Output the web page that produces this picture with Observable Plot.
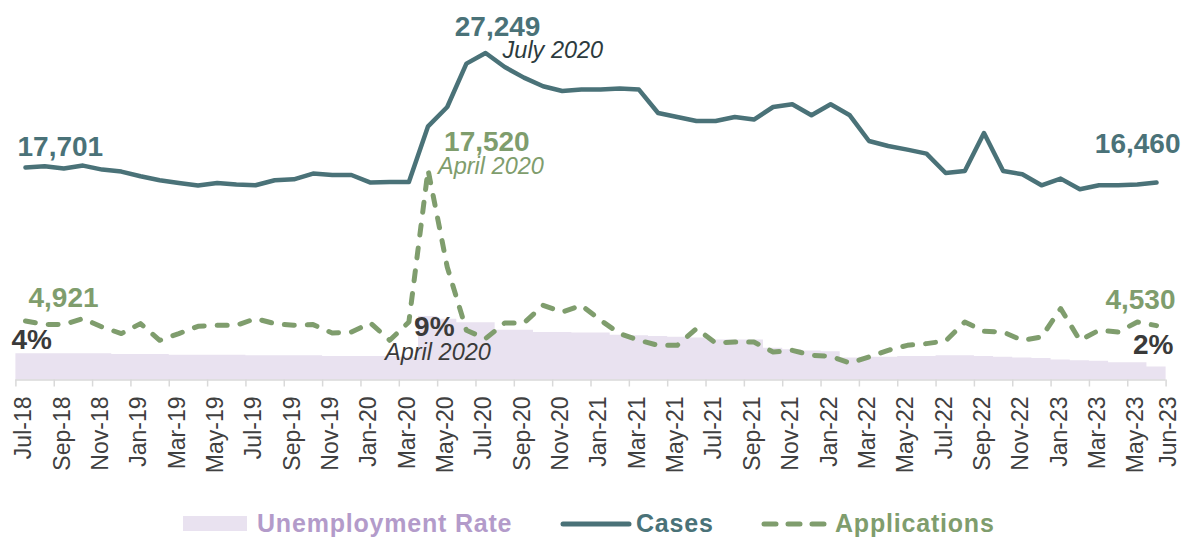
<!DOCTYPE html>
<html>
<head>
<meta charset="utf-8">
<script src="https://cdn.jsdelivr.net/npm/d3@7"></script>
<script src="https://cdn.jsdelivr.net/npm/@observablehq/plot@0.6"></script>
<style>
  html, body { margin: 0; padding: 0; background: #fff; }
  #chart { width: 1184px; height: 505px; }
  #legend { position: relative; width: 1184px; height: 32px; font-family: "Liberation Sans", Arial, sans-serif; font-weight: bold; font-size: 25px; letter-spacing: 0.8px; }
  #legend .item { position: absolute; top: 2px; height: 32px; line-height: 32px; white-space: nowrap; }
  #legend svg { position: absolute; top: 2px; }
</style>
</head>
<body>
<div id="chart"></div>
<div id="legend"></div>
<script>
// ---- data ----
const months = ["Jul-18","Aug-18","Sep-18","Oct-18","Nov-18","Dec-18","Jan-19","Feb-19","Mar-19","Apr-19","May-19","Jun-19",
  "Jul-19","Aug-19","Sep-19","Oct-19","Nov-19","Dec-19","Jan-20","Feb-20","Mar-20","Apr-20","May-20","Jun-20",
  "Jul-20","Aug-20","Sep-20","Oct-20","Nov-20","Dec-20","Jan-21","Feb-21","Mar-21","Apr-21","May-21","Jun-21",
  "Jul-21","Aug-21","Sep-21","Oct-21","Nov-21","Dec-21","Jan-22","Feb-22","Mar-22","Apr-22","May-22","Jun-22",
  "Jul-22","Aug-22","Sep-22","Oct-22","Nov-22","Dec-22","Jan-23","Feb-23","Mar-23","Apr-23","May-23","Jun-23"];

const cases = [17701,17808,17617,17867,17533,17367,16975,16642,16417,16200,
  16417,16283,16225,16642,16725,17200,17083,17083,16450,16500,
  16500,21142,22750,26367,27249,26083,25200,24475,24083,24200,
  24200,24283,24200,22250,21917,21583,21583,21917,21700,22750,
  22975,22058,22975,22058,19917,19500,19200,18867,17250,17417,
  20583,17417,17142,16225,16783,15892,16225,16225,16283,16460];

const applications = [4921,4617,4625,5117,4417,3867,4700,3308,3867,4475,
  4558,4558,5117,4700,4558,4617,3917,4000,4750,3308,
  4833,17520,9417,4142,3450,4750,4750,6225,5667,6225,
  4975,3867,3308,2892,2892,4283,3083,3167,3167,2333,
  2475,2058,1975,1417,1917,2475,2892,3033,3250,4833,
  4058,4000,3308,3583,5950,3308,4142,4000,4833,4530];

const unemployment = [3.8,3.8,3.8,3.8,3.8,3.7,3.7,3.7,3.6,3.6,
  3.6,3.6,3.5,3.5,3.5,3.5,3.4,3.4,3.4,3.4,
  3.3,9.2,8.8,8.3,8.3,7.2,7.2,6.9,6.9,6.8,
  6.8,6.5,6.4,6.3,6.2,6.1,5.8,5.8,5.8,4.6,
  4.4,4.2,4.1,3.2,3.3,3.3,3.4,3.4,3.5,3.5,
  3.4,3.3,3.2,3.1,2.9,2.8,2.7,2.5,2.5,1.9];

const labelTicks = d3.range(0, 60, 2);          // every other month
const lastLabelTick = [59];                       // final month, nudged right
const boundaryTicks = d3.range(0, 60, 2).map(i => i - 0.5).concat([59.5]);

// ---- styling ----
const FONT = "Liberation Sans, Arial, sans-serif";
const C_CASES = "#4a7278";
const C_APPS = "#7f9d6d";
const C_UNEMP = "#e9e2f0";
const C_UNEMP_TEXT = "#b39bca";
const C_DARK = "#3a3a3a";
const RATE_K = 575; // secondary-axis factor: 1% of unemployment in y units

const idx = d3.range(months.length);
const caseData = idx.map(i => ({i, v: cases[i]}));
const appData = idx.map(i => ({i, v: applications[i]}));
const unempArea = idx.map(i => ({x: i - 0.5, v: unemployment[i]})).concat([{x: 59.5, v: unemployment[59]}]);
const monthLabelData = labelTicks.map(i => ({i, label: months[i]}));
const lastLabelData = lastLabelTick.map(i => ({i, label: months[i]}));

const fmt = d3.format(",");
const last = months.length - 1;
const peakC = d3.maxIndex(cases);
const peakA = d3.maxIndex(applications);
const peakU = d3.maxIndex(unemployment);

const numLabels = [
  {i: 0, y: cases[0], text: fmt(cases[0]), fill: C_CASES, anchor: "start", dx: -8, dy: -12},
  {i: peakC, y: cases[peakC], text: fmt(cases[peakC]), fill: C_CASES, anchor: "middle", dx: 12, dy: -17},
  {i: last, y: cases[last], text: fmt(cases[last]), fill: C_CASES, anchor: "end", dx: 24, dy: -29},
  {i: peakA, y: applications[peakA], text: fmt(applications[peakA]), fill: C_APPS, anchor: "start", dx: 16, dy: -19},
  {i: 0, y: applications[0], text: fmt(applications[0]), fill: C_APPS, anchor: "start", dx: 3, dy: -14},
  {i: last, y: applications[last], text: fmt(applications[last]), fill: C_APPS, anchor: "end", dx: 19, dy: -17},
  {i: 0, y: unemployment[0] * RATE_K, text: Math.round(unemployment[0]) + "%", fill: C_DARK, anchor: "start", dx: -14, dy: -5},
  {i: peakU, y: unemployment[peakU] * RATE_K, text: Math.floor(unemployment[peakU]) + "%", fill: C_DARK, anchor: "start", dx: -14, dy: 19},
  {i: last, y: unemployment[last] * RATE_K, text: Math.round(unemployment[last]) + "%", fill: C_DARK, anchor: "end", dx: 17, dy: -13}
];
const dateLabels = [
  {i: peakC, y: cases[peakC], text: "July 2020", fill: "#2c3b3e", anchor: "start", dx: 17, dy: 5},
  {i: peakA, y: applications[peakA], text: "April 2020", fill: C_APPS, anchor: "start", dx: 10, dy: 4},
  {i: peakU, y: unemployment[peakU] * RATE_K, text: "April 2020", fill: C_DARK, anchor: "start", dx: -43, dy: 43}
];

const tickLabelStyle = {x: "i", y: 0, text: "label", rotate: -90, textAnchor: "end", lineAnchor: "middle", dy: 16.5, fontSize: 23, fill: "#404040"};

const chart = Plot.plot({
  width: 1184,
  height: 505,
  marginLeft: 15.4,
  marginRight: 18.4,
  marginTop: 31.5,
  marginBottom: 125.5,
  style: {fontFamily: FONT, background: "#fff", overflow: "visible"},
  x: {type: "linear", domain: [-0.5, 59.5], axis: null},
  y: {domain: [0, 29000], axis: null},
  marks: [
    Plot.areaY(unempArea, {x: "x", y: d => d.v * RATE_K, curve: "step-after", fill: C_UNEMP}),
    Plot.ruleY([0], {stroke: "#d9d9d9", strokeWidth: 1.5}),
    Plot.axisX(boundaryTicks, {tickSize: 7, tickFormat: () => "", stroke: "#d9d9d9", strokeWidth: 1.5}),
    // month labels along the x axis (rotated)
    Plot.text(monthLabelData, {...tickLabelStyle, dx: -1.5}),
    Plot.text(lastLabelData, {...tickLabelStyle, dx: 12}),
    Plot.lineY(caseData, {x: "i", y: "v", stroke: C_CASES, strokeWidth: 4.5, strokeLinejoin: "round", strokeLinecap: "round"}),
    Plot.lineY(appData, {x: "i", y: "v", stroke: C_APPS, strokeWidth: 5, strokeDasharray: "10,13", strokeLinejoin: "round", strokeLinecap: "round"}),
    Plot.text(numLabels, {x: "i", y: "y", text: "text", fill: "fill", lineAnchor: "bottom", fontSize: 28, fontWeight: "bold"}),
    Plot.text(dateLabels, {x: "i", y: "y", text: "text", fill: "fill", lineAnchor: "bottom", fontSize: 23.5, fontStyle: "italic"})
  ]
});
document.getElementById("chart").appendChild(chart);

// apply per-label offsets (Plot's dx/dy are constants per mark)
function offsetTexts(markIndexFromEnd, items) {
  const groups = chart.querySelectorAll("g[aria-label='text']");
  const g = groups[groups.length - markIndexFromEnd];
  g.querySelectorAll("text").forEach((t, k) => {
    const d = items[k];
    t.setAttribute("transform", (t.getAttribute("transform") || "") + ` translate(${d.dx},${d.dy})`);
    t.setAttribute("text-anchor", d.anchor);
  });
}
offsetTexts(2, numLabels);
offsetTexts(1, dateLabels);

// ---- legend ----
const legend = d3.select("#legend");
legend.append("svg").attr("width", 64).attr("height", 32).style("left", "183px")
  .append("rect").attr("x", 0).attr("y", 9).attr("width", 64).attr("height", 15).attr("fill", C_UNEMP);
legend.append("div").attr("class", "item").style("left", "257px").style("color", C_UNEMP_TEXT).text("Unemployment Rate");
legend.append("svg").attr("width", 72).attr("height", 32).style("left", "560px")
  .append("line").attr("x1", 3).attr("x2", 69).attr("y1", 17).attr("y2", 17)
  .attr("stroke", C_CASES).attr("stroke-width", 5).attr("stroke-linecap", "round");
legend.append("div").attr("class", "item").style("left", "636px").style("color", C_CASES).text("Cases");
legend.append("svg").attr("width", 72).attr("height", 32).style("left", "760px")
  .append("line").attr("x1", 4).attr("x2", 70).attr("y1", 17).attr("y2", 17)
  .attr("stroke", C_APPS).attr("stroke-width", 5).attr("stroke-linecap", "round").attr("stroke-dasharray", "12,12");
legend.append("div").attr("class", "item").style("left", "835px").style("color", C_APPS).text("Applications");
</script>
</body>
</html>
